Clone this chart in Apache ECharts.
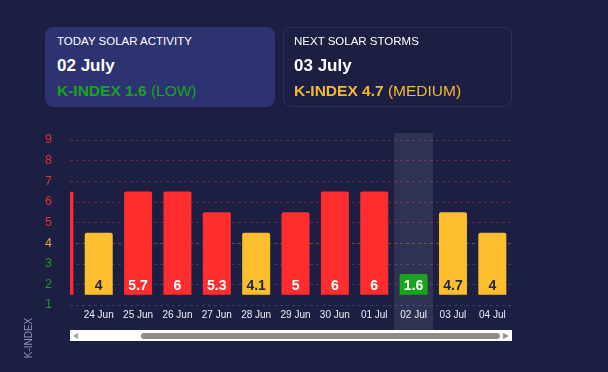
<!DOCTYPE html>
<html>
<head>
<meta charset="utf-8">
<script src="https://cdn.jsdelivr.net/npm/echarts@6/dist/echarts.min.js"></script>
<style>
html,body{margin:0;padding:0;background:#1c1e42;}
#wrap{position:relative;width:608px;height:372px;font-family:"Liberation Sans",Arial,sans-serif;overflow:hidden;}
#chart{position:absolute;left:0;top:0;width:608px;height:372px;}
.card{position:absolute;top:27px;height:80px;border-radius:8px;box-sizing:border-box;color:#fff;z-index:2;}
.card div{position:absolute;left:12px;white-space:nowrap;}
.c1{left:45px;width:230px;background:#2d3370;}
.c2{left:283px;width:229px;border:1px solid #2b3060;}
.c2 div{left:10px;}
.t{top:6px;font-size:11.5px;line-height:16px;}
.d{top:29px;font-size:17px;line-height:20px;font-weight:bold;}
.k{top:55px;font-size:15.5px;line-height:18px;}
.k b{font-weight:bold;}
</style>
</head>
<body>
<div id="wrap">
  <div id="chart"></div>
  <div class="card c1">
    <div class="t">TODAY SOLAR ACTIVITY</div>
    <div class="d" id="todayDate"></div>
    <div class="k" id="todayK"></div>
  </div>
  <div class="card c2">
    <div class="t" style="top:5px">NEXT SOLAR STORMS</div>
    <div class="d" style="top:28px" id="nextDate"></div>
    <div class="k" style="top:54px" id="nextK"></div>
  </div>
</div>
<script>
// data
const days = ['23 Jun', '24 Jun', '25 Jun', '26 Jun', '27 Jun', '28 Jun', '29 Jun', '30 Jun', '01 Jul', '02 Jul', '03 Jul', '04 Jul'];
const kIndex = [6, 4, 5.7, 6, 5.3, 4.1, 5, 6, 6, 1.6, 4.7, 4];
const yTicks = [1, 2, 3, 4, 5, 6, 7, 8, 9];
const today = '02 Jul';
const nextStorm = '03 Jul';
const todayLong = '02 July';
const nextLong = '03 July';

// visible window of the scrolled x axis
const xMin = 0.27, xMax = 11.5;

function level(v) {
  if (v < 4) return { name: 'LOW', color: '#17a51c', label: '#ffffff', grid: '#363b68' };
  if (v < 5) return { name: 'MEDIUM', color: '#fcbe2d', label: '#23264a', grid: '#5e5440' };
  return { name: 'HIGH', color: '#ff2d2d', label: '#ffffff', grid: '#5e2a4c' };
}
const axisLabelColor = v => (v < 4 ? '#1f9a2c' : v < 5 ? '#eaa434' : '#e2303a');

const ti = days.indexOf(today), ni = days.indexOf(nextStorm);
document.getElementById('todayDate').textContent = todayLong;
document.getElementById('nextDate').textContent = nextLong;
const lt = level(kIndex[ti]), ln = level(kIndex[ni]);
document.getElementById('todayK').innerHTML = '<b>K-INDEX ' + kIndex[ti] + '</b> (' + lt.name + ')';
document.getElementById('todayK').style.color = lt.color;
document.getElementById('nextK').innerHTML = '<b>K-INDEX ' + kIndex[ni] + '</b> (' + ln.name + ')';
document.getElementById('nextK').style.color = '#f5b92e';

const chart = echarts.init(document.getElementById('chart'));

// bar height: half a step above the "1" line up to the rounded level
const barData = kIndex.map((v, i) => [i, Math.round(v) - 1]);

function renderBar(params, api) {
  const i = api.value(0);
  const v = kIndex[params.dataIndex];
  const lv = level(v);
  const top = api.coord([i, api.value(1)]);
  const base = api.coord([i, 0]);
  const w = 28;
  const cs = params.coordSys;
  const rect = echarts.graphic.clipRectByRect(
    { x: top[0] - w / 2, y: top[1], width: w, height: base[1] - top[1] },
    { x: cs.x, y: cs.y, width: cs.width, height: cs.height }
  );
  if (!rect) return;
  const children = [{
    type: 'rect',
    shape: { x: rect.x, y: rect.y, width: rect.width, height: rect.height, r: [2, 2, 0, 0] },
    style: { fill: lv.color }
  }];
  if (i >= xMin) {
    children.push({
      type: 'text',
      x: top[0], y: base[1] - 2,
      style: {
        text: String(v), fill: lv.label, fontSize: 14, fontWeight: 'bold',
        fontFamily: '"Liberation Sans", Arial', align: 'center', verticalAlign: 'bottom'
      }
    });
  }
  return { type: 'group', children };
}

const option = {
  backgroundColor: '#1c1e42',
  animation: false,
  textStyle: { fontFamily: '"Liberation Sans", Arial, sans-serif' },
  grid: [
    { left: 70, right: 96, top: 140, bottom: 67 },
    { left: 70, right: 96, top: 133, bottom: 42 }
  ],
  xAxis: [
    {
      type: 'value', gridIndex: 0, min: xMin, max: xMax,
      minInterval: 1, maxInterval: 1,
      axisLine: { show: false }, axisTick: { show: false }, splitLine: { show: false },
      axisLabel: {
        color: '#eceef6', fontSize: 10, margin: 5,
        formatter: v => (Number.isInteger(v) ? days[v] : '')
      }
    },
    { type: 'value', gridIndex: 1, min: xMin, max: xMax, show: false, splitLine: { show: false } }
  ],
  yAxis: [
    {
      type: 'value', gridIndex: 0, min: 1, max: 9, interval: 1,
      axisLine: { show: false }, axisTick: { show: false },
      axisLabel: { fontSize: 12.5, margin: 18, color: v => axisLabelColor(v) },
      splitLine: { lineStyle: { type: [3, 3], width: 1, color: yTicks.map(t => level(t).grid) } }
    },
    { type: 'value', gridIndex: 1, min: 0, max: 1, show: false, splitLine: { show: false } },
    { type: 'value', gridIndex: 0, min: -0.5, max: 7.5, show: false, splitLine: { show: false } }
  ],
  series: [
    {
      type: 'bar', xAxisIndex: 1, yAxisIndex: 1, silent: true, z: 0,
      barWidth: 39,
      itemStyle: { color: 'rgba(255,255,255,0.09)' },
      data: [[ti, 1]]
    },
    {
      type: 'custom', xAxisIndex: 0, yAxisIndex: 2, z: 3,
      renderItem: renderBar,
      encode: { x: 0, y: 1 },
      data: barData
    }
  ],
  graphic: [
    {
      type: 'text', x: 29, y: 338, rotation: Math.PI / 2,
      style: { text: 'K-INDEX', fill: '#8a90bd', fontSize: 10, textAlign: 'center', textVerticalAlign: 'middle', fontFamily: '"Liberation Sans", Arial' }
    },
    { type: 'rect', shape: { x: 70, y: 330, width: 442, height: 11 }, style: { fill: '#ffffff' } },
    { type: 'rect', shape: { x: 141, y: 333, width: 359, height: 6, r: 3 }, style: { fill: '#8c8c8c' } },
    { type: 'polygon', shape: { points: [[73, 336], [78, 333], [78, 339]] }, style: { fill: '#a3a3a3' } },
    { type: 'polygon', shape: { points: [[509, 336], [503, 333], [503, 339]] }, style: { fill: '#8f8f8f' } }
  ]
};

option && chart.setOption(option);
</script>
</body>
</html>
